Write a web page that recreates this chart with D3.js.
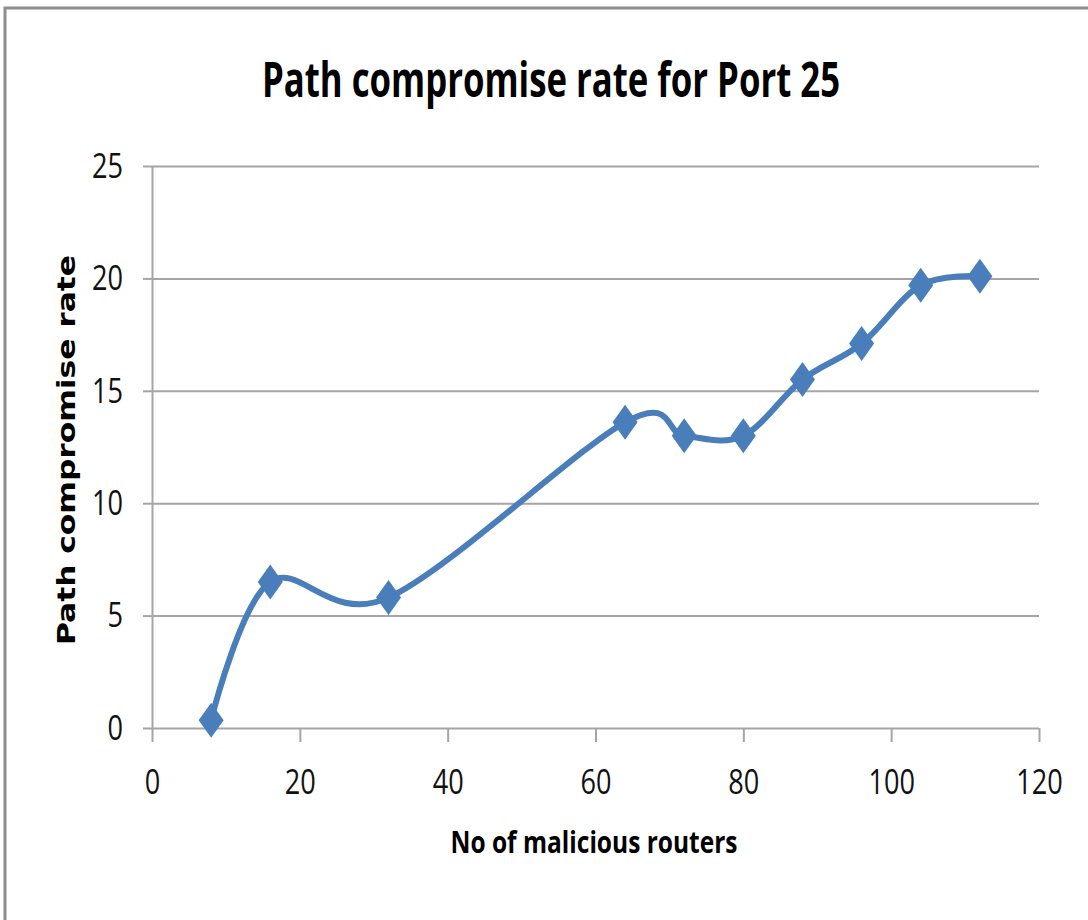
<!DOCTYPE html>
<html>
<head>
<meta charset="utf-8">
<script src="https://cdn.jsdelivr.net/npm/d3@7"></script>
<style>
  html, body { margin: 0; padding: 0; background: #fff; }
  svg { display: block; }
</style>
</head>
<body>
<svg id="chart" width="1088" height="920"></svg>
<script>
// ---- data ----
const routers = [8, 16, 32, 64, 72, 80, 88, 96, 104, 112];
const compromiseRate = [0.35, 6.5, 5.8, 13.6, 13.0, 13.0, 15.5, 17.1, 19.7, 20.1];
const xTicks = [0, 20, 40, 60, 80, 100, 120];
const yTicks = [0, 5, 10, 15, 20, 25];
const titleText = "Path compromise rate for Port 25";
const xTitle = "No of malicious routers";
const yTitle = "Path compromise rate";

// ---- layout ----
const svg = d3.select("#chart");
const L = 152, R = 1039, T = 166, B = 728;
const x = d3.scaleLinear().domain([0, 120]).range([L, R]);
const y = d3.scaleLinear().domain([0, 25]).range([B, T]);
const gridColor = "#a5a5a5";
const lineColor = "#4a7ebb";
const textFont = "'Open Sans', 'Liberation Sans', sans-serif";

// outer frame
svg.append("rect")
  .attr("x", 5).attr("y", 8).attr("width", 1200).attr("height", 1000)
  .attr("fill", "none").attr("stroke", "#8e8e8e").attr("stroke-width", 3);

// title
svg.append("text")
  .attr("x", 551).attr("y", 97)
  .attr("text-anchor", "middle")
  .attr("font-family", textFont).attr("font-weight", 700)
  .attr("font-size", 49)
  .attr("textLength", 578).attr("lengthAdjust", "spacingAndGlyphs")
  .attr("fill", "#000")
  .text(titleText);

// gridlines
const grid = svg.append("g").attr("transform", `translate(${L},0)`)
  .call(d3.axisLeft(y).tickValues(yTicks).tickSize(-(R - L)).tickFormat(""));
grid.select(".domain").remove();
grid.selectAll(".tick line").attr("stroke", gridColor).attr("stroke-width", 2);

// y axis
const yAxis = svg.append("g").attr("transform", `translate(${L},0)`)
  .call(d3.axisLeft(y).tickValues(yTicks).tickSize(9).tickSizeOuter(0).tickPadding(20));
yAxis.select(".domain").attr("stroke", gridColor).attr("stroke-width", 2);
yAxis.selectAll(".tick line").attr("stroke", gridColor).attr("stroke-width", 2);
yAxis.selectAll(".tick text")
  .attr("font-family", textFont).attr("font-size", 35).attr("fill", "#111")
  .attr("textLength", d => String(d).length * 15.5).attr("lengthAdjust", "spacingAndGlyphs");

// x axis
const xAxis = svg.append("g").attr("transform", `translate(0,${B})`)
  .call(d3.axisBottom(x).tickValues(xTicks).tickSize(14).tickSizeOuter(0).tickPadding(27));
xAxis.select(".domain").remove();
xAxis.selectAll(".tick line").attr("stroke", gridColor).attr("stroke-width", 2);
xAxis.selectAll(".tick text")
  .attr("font-family", textFont).attr("font-size", 35).attr("fill", "#111")
  .attr("textLength", d => String(d).length * 15.5).attr("lengthAdjust", "spacingAndGlyphs");

// axis titles
svg.append("text")
  .attr("x", 594).attr("y", 853)
  .attr("text-anchor", "middle")
  .attr("font-family", textFont).attr("font-weight", 700).attr("font-size", 31)
  .attr("textLength", 287).attr("lengthAdjust", "spacingAndGlyphs")
  .attr("fill", "#000")
  .text(xTitle);

svg.append("text")
  .attr("transform", "translate(75,450) rotate(-90)")
  .attr("text-anchor", "middle")
  .attr("font-family", "'DejaVu Sans', Verdana, sans-serif").attr("font-weight", 700).attr("font-size", 24)
  .attr("textLength", 390).attr("lengthAdjust", "spacingAndGlyphs")
  .attr("fill", "#000")
  .text(yTitle);

// series line
const pts = routers.map((r, i) => [r, compromiseRate[i]]);
const line = d3.line()
  .x(d => x(d[0])).y(d => y(d[1]))
  .curve(d3.curveCardinal.tension(0));
svg.append("path")
  .datum(pts)
  .attr("d", line)
  .attr("fill", "none")
  .attr("stroke", lineColor)
  .attr("stroke-width", 6)
  .attr("stroke-linejoin", "round");

// diamond markers
const hw = 12.5, hh = 17.5;
svg.append("g").selectAll("path")
  .data(pts)
  .join("path")
  .attr("transform", d => `translate(${x(d[0])},${y(d[1])})`)
  .attr("d", `M0,${-hh}L${hw},0L0,${hh}L${-hw},0Z`)
  .attr("fill", lineColor);
</script>
</body>
</html>
